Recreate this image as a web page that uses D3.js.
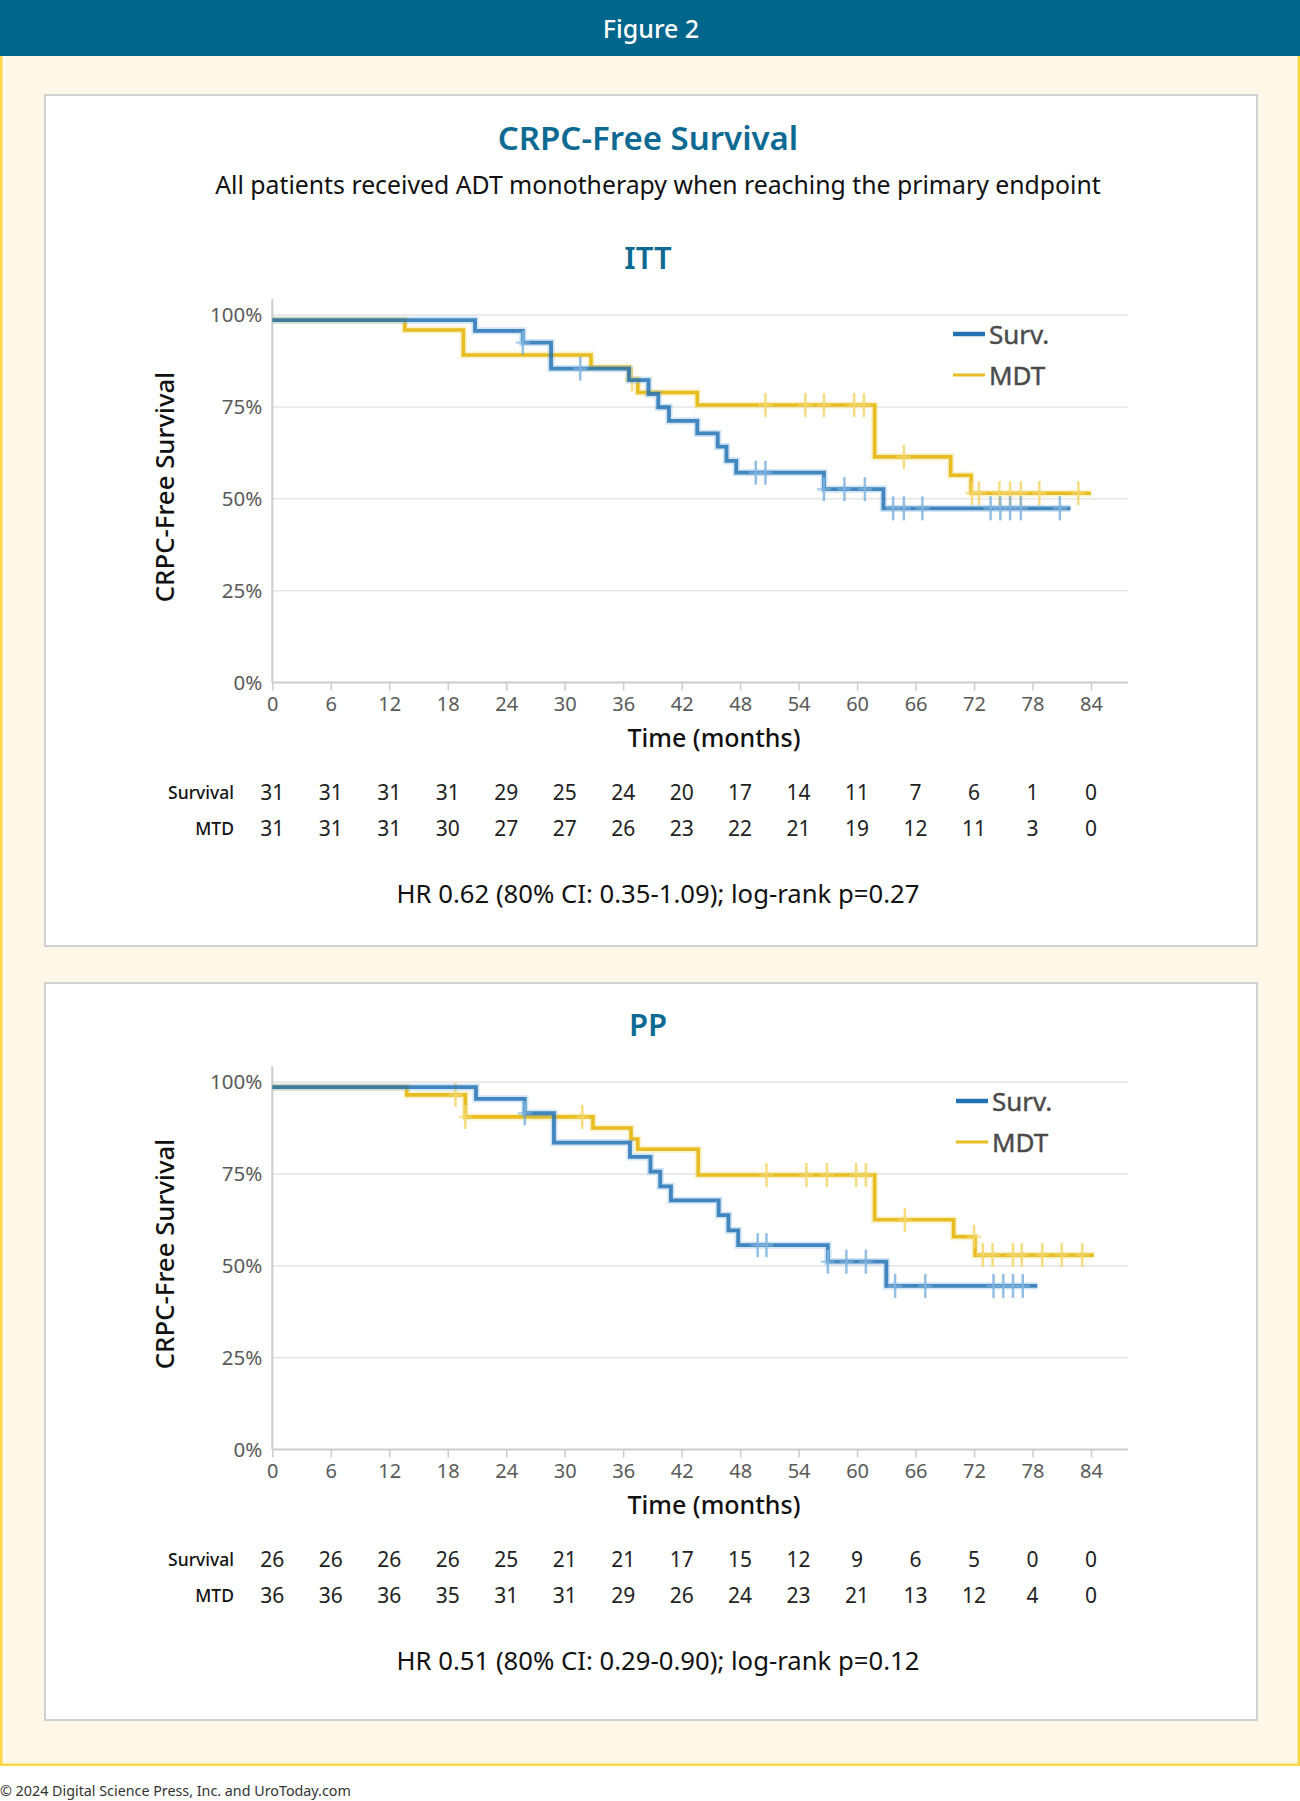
<!DOCTYPE html>
<html>
<head>
<meta charset="utf-8">
<script src="https://cdn.jsdelivr.net/npm/d3@7"></script>
<style>
  html, body { margin: 0; padding: 0; background: #ffffff; }
  svg { display: block; }
  text { font-family: "Noto Sans", "Open Sans", sans-serif; }
</style>
</head>
<body>
<svg id="chart" width="1300" height="1801"></svg>
<script>
// ---------------- DATA ----------------
const timeTicks = [0, 6, 12, 18, 24, 30, 36, 42, 48, 54, 60, 66, 72, 78, 84];
const survTicks = [0, 25, 50, 75, 100];
const seriesNames = ["Surv.", "MDT"];
const riskRowLabels = ["Survival", "MTD"];

// ITT — Surveillance arm
const ittSurvTimes  = [0, 20.8, 25.7, 28.6, 36.6, 38.6, 39.6, 40.7, 43.6, 45.7, 46.6, 47.6, 56.6, 62.7];
const ittSurvValues = [98.6, 95.7, 92.5, 85.4, 82.3, 78.5, 74.9, 71.2, 67.8, 64.2, 60.3, 57.1, 52.6, 47.4];
const ittSurvEnd = 81.9;
const ittSurvCensored = [25.7, 31.6, 49.6, 50.6, 56.6, 58.7, 60.8, 63.7, 64.8, 66.7, 73.7, 74.7, 75.7, 76.8, 80.8];
// ITT — MDT arm
const ittMdtTimes  = [0, 13.6, 19.6, 32.7, 36.6, 37.5, 43.6, 61.8, 69.6, 71.7];
const ittMdtValues = [98.6, 95.9, 89.1, 85.8, 82.5, 78.9, 75.5, 61.4, 56.4, 51.5];
const ittMdtEnd = 84.0;
const ittMdtCensored = [36.9, 50.6, 54.7, 56.6, 59.7, 60.7, 64.8, 71.8, 72.5, 74.6, 75.7, 76.8, 78.7, 82.7];
// ITT — numbers at risk
const ittRiskSurv = [31, 31, 31, 31, 29, 25, 24, 20, 17, 14, 11, 7, 6, 1, 0];
const ittRiskMtd  = [31, 31, 31, 30, 27, 27, 26, 23, 22, 21, 19, 12, 11, 3, 0];

// PP — Surveillance arm
const ppSurvTimes  = [0, 20.9, 25.9, 28.9, 36.7, 38.8, 39.8, 40.9, 45.8, 46.8, 47.8, 57.0, 63.0];
const ppSurvValues = [98.6, 95.4, 91.5, 83.5, 79.6, 75.6, 71.6, 67.8, 63.8, 59.6, 55.6, 51.1, 44.5];
const ppSurvEnd = 78.5;
const ppSurvCensored = [25.9, 49.8, 50.7, 57.0, 58.9, 60.9, 63.9, 67.0, 74.0, 75.0, 76.0, 77.0];
// PP — MDT arm
const ppMdtTimes  = [0, 13.8, 19.8, 32.9, 36.8, 37.5, 43.7, 61.8, 69.9, 72.1];
const ppMdtValues = [98.6, 96.5, 90.5, 87.5, 84.5, 81.7, 74.7, 62.5, 57.9, 52.9];
const ppMdtEnd = 84.3;
const ppMdtCensored = [18.8, 19.8, 31.8, 50.7, 54.8, 56.9, 59.9, 60.9, 64.9, 72.0, 72.9, 73.9, 76.0, 76.9, 79.0, 81.0, 83.1];
// PP — numbers at risk
const ppRiskSurv = [26, 26, 26, 26, 25, 21, 21, 17, 15, 12, 9, 6, 5, 0, 0];
const ppRiskMtd  = [36, 36, 36, 35, 31, 31, 29, 26, 24, 23, 21, 13, 12, 4, 0];

// Texts
const figureLabel = "Figure 2";
const mainTitle = "CRPC-Free Survival";
const subTitle = "All patients received ADT monotherapy when reaching the primary endpoint";
const yAxisTitle = "CRPC-Free Survival";
const xAxisTitle = "Time (months)";
const ittTitle = "ITT";
const ppTitle = "PP";
const ittStats = "HR 0.62 (80% CI: 0.35-1.09); log-rank p=0.27";
const ppStats = "HR 0.51 (80% CI: 0.29-0.90); log-rank p=0.12";
const footer = "© 2024 Digital Science Press, Inc. and UroToday.com";

// ---------------- STYLE ----------------
const C = {
  header: "#00668c",
  cream: "#fff8e9",
  yellowBorder: "#ffd54a",
  panelStroke: "#d0d0d0",
  titleBlue: "#0d6a93",
  grid: "#e5e5e5",
  axis: "#cccccc",
  tickText: "#5a5a5a",
  blue: "#2272b4",
  blueLight: "#6aa8dc",
  yellow: "#e8bd22",
  yellowLight: "#f3d66a"
};

const svg = d3.select("#chart");

// Background frame
svg.append("rect").attr("x", 0).attr("y", 0).attr("width", 1300).attr("height", 1801).attr("fill", "#ffffff");
svg.append("rect").attr("x", 1.25).attr("y", 50).attr("width", 1297.5).attr("height", 1714.75)
  .attr("fill", C.cream).attr("stroke", C.yellowBorder).attr("stroke-width", 2.5);
svg.append("rect").attr("x", 0).attr("y", 0).attr("width", 1300).attr("height", 56).attr("fill", C.header);
svg.append("text").attr("x", 651).attr("y", 28).attr("text-anchor", "middle").attr("dominant-baseline", "central")
  .attr("fill", "#ffffff").attr("font-size", 25).attr("font-weight", 500).text(figureLabel);

// Panels
function panelBox(y, h) {
  svg.append("rect").attr("x", 45).attr("y", y).attr("width", 1212).attr("height", h)
    .attr("fill", "#ffffff").attr("stroke", C.panelStroke).attr("stroke-width", 2);
}
panelBox(95, 851);
panelBox(983, 737);

svg.append("text").attr("x", 648).attr("y", 137).attr("text-anchor", "middle").attr("dominant-baseline", "central")
  .attr("fill", C.titleBlue).attr("font-size", 33).attr("font-weight", 600).text(mainTitle);
svg.append("text").attr("x", 658).attr("y", 184).attr("text-anchor", "middle").attr("dominant-baseline", "central")
  .attr("fill", "#111").attr("font-size", 24.8).text(subTitle);

svg.append("text").attr("x", 0).attr("y", 1790).attr("dominant-baseline", "central")
  .attr("fill", "#333").attr("font-size", 14.3).text(footer);

// ---------------- KM PANEL ----------------
function kmPanel(cfg) {
  const top = cfg.top;             // y of 100%
  const x = d3.scaleLinear().domain([0, 84]).range([272.3, 1091]);
  const y = d3.scaleLinear().domain([0, 100]).range([top + 367.5, top]);
  const xRight = 1128;
  const g = svg.append("g");

  // title
  g.append("text").attr("x", 648).attr("y", top - 58).attr("text-anchor", "middle").attr("dominant-baseline", "central")
    .attr("fill", C.titleBlue).attr("font-size", 31).attr("font-weight", 600).text(cfg.title);

  // gridlines
  g.selectAll(".grid").data(survTicks.filter(d => d > 0)).join("line")
    .attr("x1", x(0)).attr("x2", xRight).attr("y1", d => y(d)).attr("y2", d => y(d))
    .attr("stroke", C.grid).attr("stroke-width", 1.5);

  // x axis
  const xAxis = d3.axisBottom(x).tickValues(timeTicks).tickSize(8).tickPadding(6).tickFormat(d3.format("d"));
  const xg = g.append("g").attr("transform", `translate(0,${y(0)})`).call(xAxis);
  xg.select(".domain").remove();
  xg.selectAll(".tick line").attr("stroke", C.axis).attr("stroke-width", 1.5);
  xg.selectAll(".tick text").attr("fill", C.tickText).attr("font-size", 20).attr("font-family", "'Noto Sans', sans-serif");
  g.append("line").attr("x1", x(0)).attr("x2", xRight).attr("y1", y(0)).attr("y2", y(0))
    .attr("stroke", C.axis).attr("stroke-width", 2);

  // y axis
  const yAxis = d3.axisLeft(y).tickValues(survTicks).tickSize(0).tickPadding(10).tickFormat(d => d + "%");
  const yg = g.append("g").attr("transform", `translate(${x(0)},0)`).call(yAxis);
  yg.select(".domain").remove();
  yg.selectAll(".tick text").attr("fill", C.tickText).attr("font-size", 20.5).attr("font-family", "'Noto Sans', sans-serif");
  g.append("line").attr("x1", x(0)).attr("x2", x(0)).attr("y1", top - 16).attr("y2", y(0))
    .attr("stroke", C.axis).attr("stroke-width", 2);

  // axis titles
  g.append("text").attr("transform", `translate(164,${top + 172}) rotate(-90)`).attr("text-anchor", "middle")
    .attr("dominant-baseline", "central").attr("fill", "#111").attr("font-size", 25.8).attr("font-weight", 500).text(yAxisTitle);
  g.append("text").attr("x", 714).attr("y", top + 422).attr("text-anchor", "middle").attr("dominant-baseline", "central")
    .attr("fill", "#111").attr("font-size", 25).attr("font-weight", 500).text(xAxisTitle);

  // curves
  function stepAt(times, values, t) {
    let v = values[0];
    for (let i = 0; i < times.length; i++) if (times[i] <= t) v = values[i];
    return v;
  }
  const line = d3.line().x(d => x(d[0])).y(d => y(d[1])).curve(d3.curveStepAfter);
  function drawArm(times, values, end, cens, color, light, width, opacity) {
    const pts = times.map((t, i) => [t, values[i]]);
    pts.push([end, values[values.length - 1]]);
    const ag = g.append("g").attr("opacity", opacity);
    ag.append("path").datum(pts).attr("d", line).attr("fill", "none")
      .attr("stroke", light).attr("stroke-width", width + 3.5).attr("stroke-opacity", 0.35);
    ag.append("path").datum(pts).attr("d", line).attr("fill", "none")
      .attr("stroke", color).attr("stroke-width", width);
    const cg = ag.append("g");
    cens.forEach(t => {
      const cy = y(stepAt(times, values, t));
      cg.append("line").attr("x1", x(t)).attr("x2", x(t)).attr("y1", cy - 12).attr("y2", cy + 12)
        .attr("stroke", light).attr("stroke-width", 2.5).attr("stroke-opacity", 0.85);
      cg.append("line").attr("x1", x(t) - 7).attr("x2", x(t) + 7).attr("y1", cy).attr("y2", cy)
        .attr("stroke", light).attr("stroke-width", 2.5).attr("stroke-opacity", 0.6);
    });
  }
  drawArm(cfg.mdtT, cfg.mdtV, cfg.mdtEnd, cfg.mdtC, C.yellow, C.yellowLight, 3.6, 1);
  drawArm(cfg.survT, cfg.survV, cfg.survEnd, cfg.survC, C.blue, C.blueLight, 3.8, 0.85);

  // legend
  const lg = g.append("g");
  const leg = [
    { name: seriesNames[0], color: C.blue, w: 4.5, dy: 19 },
    { name: seriesNames[1], color: C.yellow, w: 3, dy: 60 }
  ];
  leg.forEach(l => {
    lg.append("line").attr("x1", cfg.legX).attr("x2", cfg.legX + 32).attr("y1", top + l.dy).attr("y2", top + l.dy)
      .attr("stroke", l.color).attr("stroke-width", l.w);
    lg.append("text").attr("x", cfg.legX + 36).attr("y", top + l.dy).attr("dominant-baseline", "central")
      .attr("font-family", "'Liberation Sans', Arial, sans-serif").attr("font-size", 26)
      .attr("fill", "#4a4a4a").attr("stroke", "#4a4a4a").attr("stroke-width", 0.4).text(l.name);
  });

  // risk table
  const rows = [cfg.riskS, cfg.riskM];
  rows.forEach((row, r) => {
    const ry = top + 477 + r * 36;
    g.append("text").attr("x", 234).attr("y", ry).attr("text-anchor", "end").attr("dominant-baseline", "central")
      .attr("fill", "#111").attr("font-size", 17.5).attr("font-weight", 500).text(riskRowLabels[r]);
    g.selectAll(null).data(row).join("text")
      .attr("x", (d, i) => x(timeTicks[i])).attr("y", ry).attr("text-anchor", "middle").attr("dominant-baseline", "central")
      .attr("fill", "#222").attr("font-size", 21).text(d => d);
  });

  // stats
  g.append("text").attr("x", 658).attr("y", top + 578).attr("text-anchor", "middle").attr("dominant-baseline", "central")
    .attr("fill", "#111").attr("font-size", 25.7).text(cfg.stats);
}

kmPanel({
  top: 315, title: ittTitle, stats: ittStats, legX: 953,
  survT: ittSurvTimes, survV: ittSurvValues, survEnd: ittSurvEnd, survC: ittSurvCensored,
  mdtT: ittMdtTimes, mdtV: ittMdtValues, mdtEnd: ittMdtEnd, mdtC: ittMdtCensored,
  riskS: ittRiskSurv, riskM: ittRiskMtd
});
kmPanel({
  top: 1082, title: ppTitle, stats: ppStats, legX: 956,
  survT: ppSurvTimes, survV: ppSurvValues, survEnd: ppSurvEnd, survC: ppSurvCensored,
  mdtT: ppMdtTimes, mdtV: ppMdtValues, mdtEnd: ppMdtEnd, mdtC: ppMdtCensored,
  riskS: ppRiskSurv, riskM: ppRiskMtd
});
</script>
</body>
</html>
